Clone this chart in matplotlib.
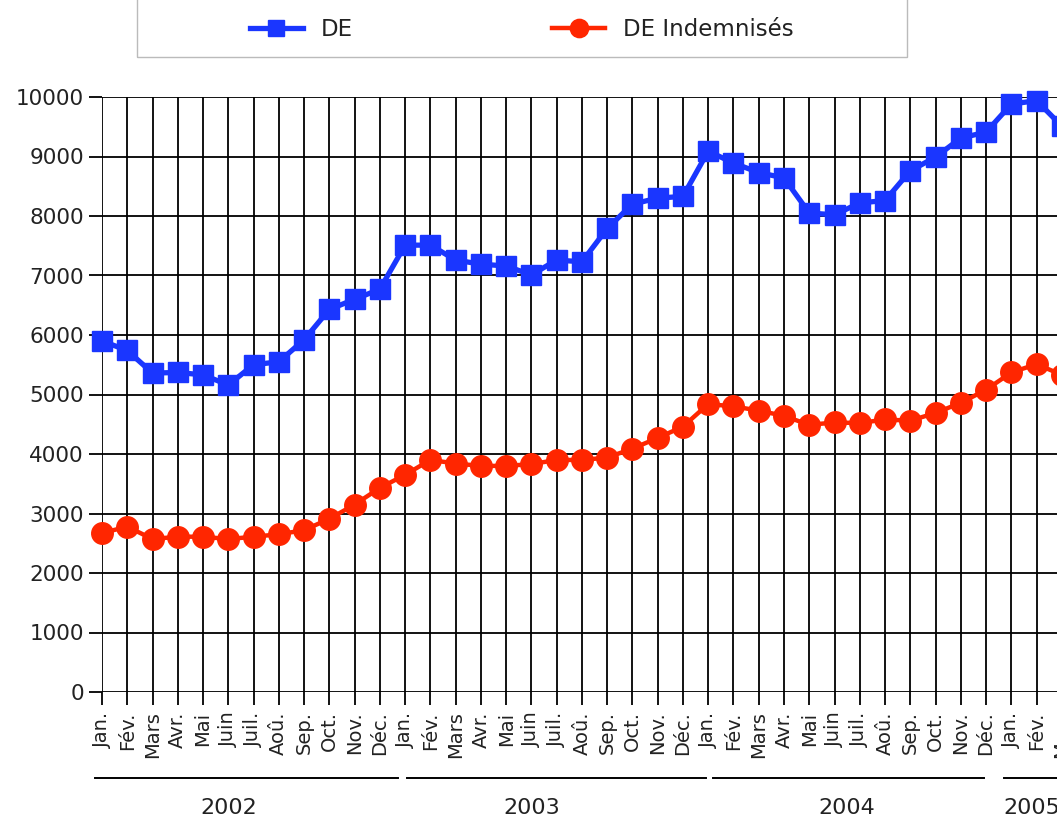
import matplotlib
matplotlib.use("Agg")
import matplotlib.pyplot as plt
import matplotlib.transforms as mtransforms
from matplotlib.patches import Rectangle

plt.rcParams["font.family"] = ["DejaVu Sans"]

# --- data (Jan 2002 .. Mar 2005) ---------------------------------------------------------
MONTHS = ["Jan.", "Fév.", "Mars", "Avr.", "Mai", "Juin", "Juil.", "Aoû.",
          "Sep.", "Oct.", "Nov.", "Déc."]
month_labels = MONTHS * 3 + ["Jan.", "Fév.", "Mars"]

de = [5900, 5740, 5360, 5370, 5330, 5160, 5500, 5550, 5920, 6430, 6600, 6770,
      7510, 7510, 7260, 7190, 7160, 7010, 7260, 7230, 7790, 8200, 8300, 8330,
      9090, 8890, 8730, 8640, 8050, 8020, 8220, 8260, 8760, 8990, 9310, 9410,
      9880, 9940, 9510]
de_indemn = [2670, 2780, 2570, 2610, 2610, 2570, 2610, 2650, 2720, 2910, 3150, 3430,
             3650, 3900, 3840, 3800, 3800, 3830, 3900, 3900, 3940, 4090, 4270, 4460,
             4840, 4800, 4730, 4640, 4490, 4530, 4520, 4580, 4560, 4690, 4860, 5080,
             5370, 5510, 5330]

years = ["2002", "2003", "2004", "2005"]
year_label_x = [5.0, 17.0, 29.5, 36.8]
year_spans = [(-0.28, 11.72), (12.07, 23.9), (24.2, 34.9), (35.7, 39.5)]

BLUE = "#1a36ff"
RED = "#ff2600"
TXT = "#222222"

x = list(range(len(month_labels)))

fig = plt.figure(figsize=(10.57, 8.19), dpi=100)
ax = fig.add_axes([102 / 1057, 127 / 819, 975 / 1057, 595 / 819])

l1, = ax.plot(x, de, color=BLUE, lw=3.8, marker="s", ms=14, label="DE", clip_on=False, zorder=4)
l2, = ax.plot(x, de_indemn, color=RED, lw=3.2, marker="o", ms=15.5, label="DE Indemnisés",
              clip_on=False, zorder=4)

ax.set_xlim(0, 38.6)
ax.set_ylim(0, 10000)
ax.set_yticks(range(0, 10001, 1000))
ax.set_xticks(x)
ax.set_xticklabels(month_labels, rotation=90, fontsize=14, color=TXT)
ax.tick_params(axis="y", labelsize=15.5, labelcolor=TXT, length=9.5, width=1.3, pad=3.5)
ax.tick_params(axis="x", length=9, width=1.3, pad=5)
for s in ax.spines.values():
    s.set_visible(False)
ax.grid(True, color="black", lw=1.3)
ax.set_axisbelow(True)

# year brackets under the month labels
trans = mtransforms.blended_transform_factory(ax.transData, ax.transAxes)
for yr, xc, (a, b) in zip(years, year_label_x, year_spans):
    ax.plot([a, b], [-0.1445, -0.1445], color="black", lw=1.4, transform=trans, clip_on=False)
    ax.text(xc, -0.195, yr, transform=trans, ha="center", va="center", fontsize=16,
            color=TXT)

# legend box at the top
fig.patches.append(Rectangle((137 / 1057, (819 - 57) / 819), 770 / 1057, 0.09,
                             transform=fig.transFigure, fill=False, edgecolor="#bbbbbb",
                             lw=1.0))
fig.legend(handles=[l1, l2], loc="center", bbox_to_anchor=(522 / 1057, (819 - 30) / 819),
           ncol=2, frameon=False, fontsize=16.5, handlelength=2.3, handletextpad=0.8,
           columnspacing=8.7, markerscale=0.85, labelcolor=TXT)

fig.savefig("out.png", dpi=100)
